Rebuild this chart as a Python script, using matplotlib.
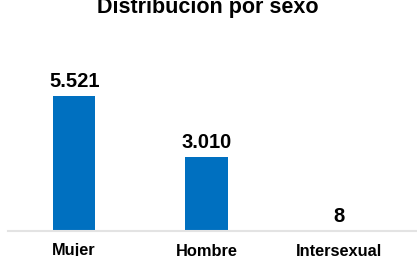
import matplotlib.pyplot as plt

categorias = ['Mujer', 'Hombre', 'Intersexual']
valores = [5521, 3010, 8]
etiquetas = ['5.521', '3.010', '8']

plt.rcParams['font.family'] = ['Liberation Sans', 'DejaVu Sans']

W, H = 417, 256
fig = plt.figure(figsize=(W / 100, H / 100), dpi=100)

# axes placed in pixel coords: x 8..417, y 30..231
ax = fig.add_axes([8 / W, (H - 231) / H, (W - 8) / W, 201 / H])
x = range(len(categorias))
ax.bar(x, valores, width=0.32, color='#0070C0')
ax.set_xlim(-0.5, 2.59)
ax.set_ylim(0, 5521 * 201 / 135)

for xi, v, t in zip(x, valores, etiquetas):
    ax.annotate(t, (xi, v), xytext=(0, 6.5), textcoords='offset points',
                ha='center', va='baseline', fontsize=14.5, fontweight='bold')

ax.set_xticks(list(x))
ax.set_xticklabels(categorias, fontsize=11.8, fontweight='bold')
ax.tick_params(axis='x', length=0, pad=9)
ax.set_yticks([])
for s in ['top', 'right', 'left']:
    ax.spines[s].set_visible(False)
ax.spines['bottom'].set_color('#e3e3e3')
ax.spines['bottom'].set_linewidth(1.5)

fig.text(208 / W, (H - 13) / H, 'Distribución por sexo', ha='center', va='baseline',
         fontsize=15.5, fontweight='bold')

fig.savefig('out.png', dpi=100)
